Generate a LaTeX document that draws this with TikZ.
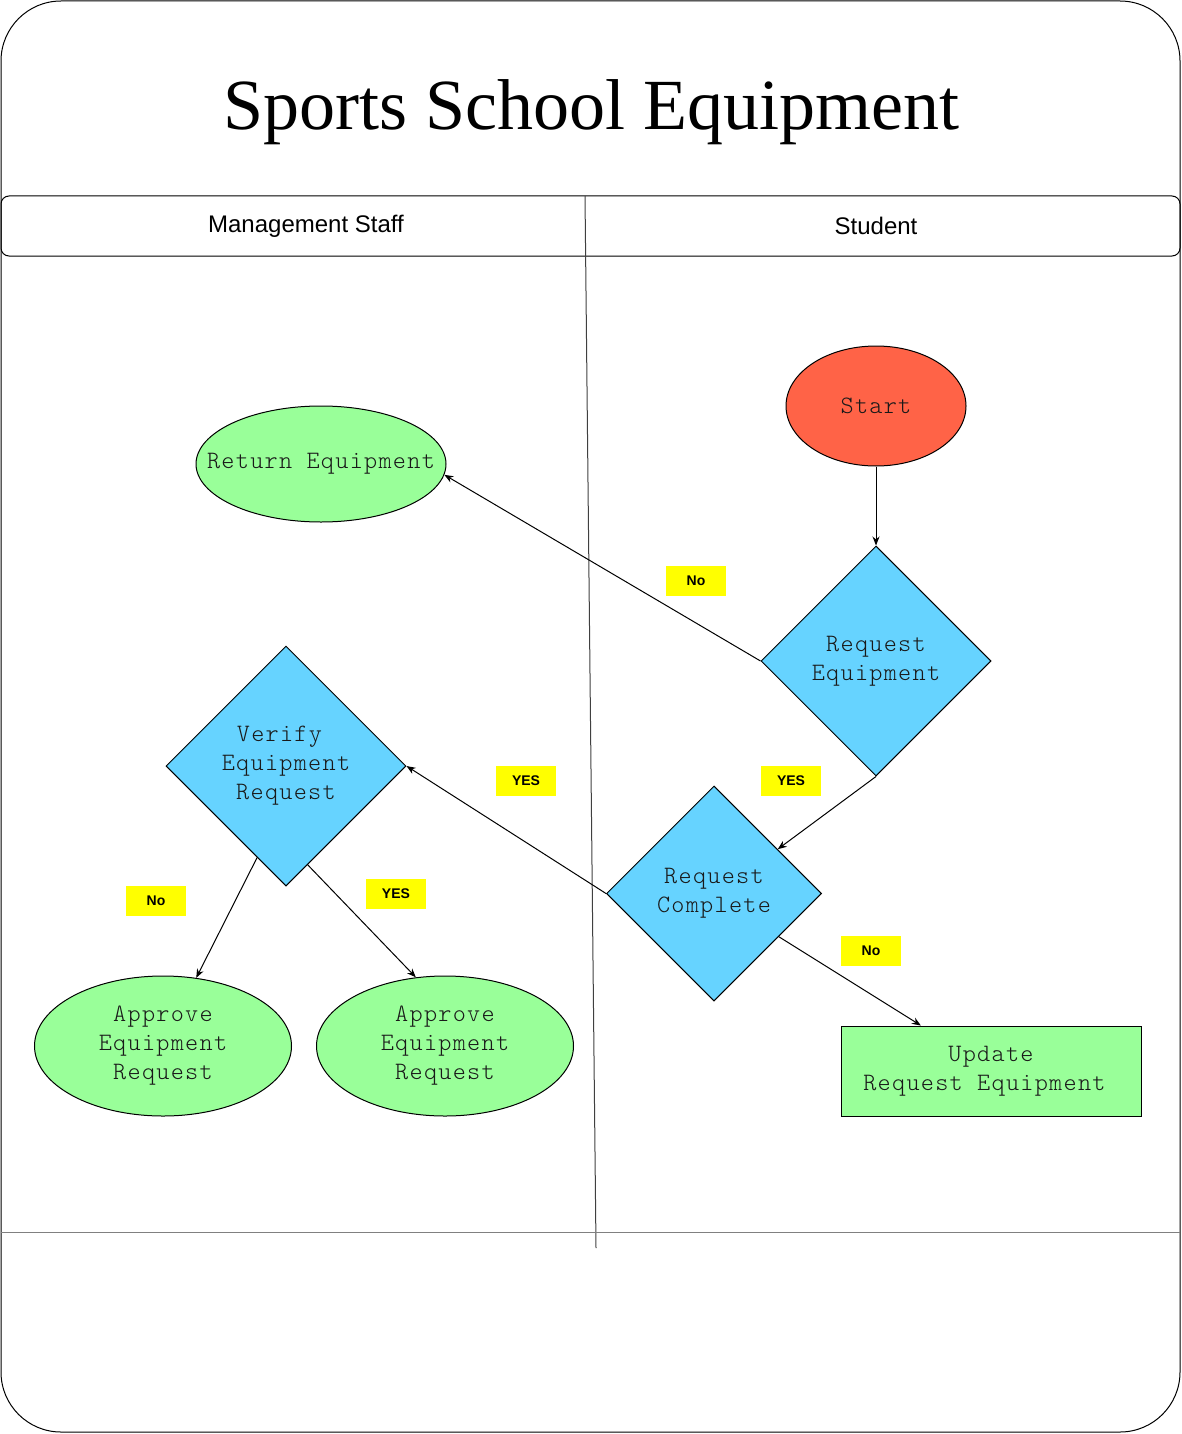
\documentclass[tikz,border=0pt]{standalone}
\usepackage{fontspec}
\setmainfont{Liberation Serif}
\newfontfamily\monof{lmmonolt10-regular.otf}[LetterSpace=5.1]
\newfontfamily\arialf{Liberation Sans}
\usetikzlibrary{shapes.geometric,arrows.meta,calc}
\definecolor{tomatoc}{HTML}{FF6347}
\definecolor{bluec}{HTML}{66D3FF}
\definecolor{greenc}{HTML}{99FF99}
\definecolor{yellowc}{HTML}{FFFF00}
\tikzset{
 mono/.style={font=\monof\fontsize{25}{29}\selectfont, align=center, text=black!90},
 ell/.style={ellipse, draw, inner sep=0pt, line width=1pt},
 dia/.style={diamond, draw, fill=bluec, inner sep=0pt, line width=1pt, aspect=1},
 tag/.style={fill=yellowc, minimum width=60pt, minimum height=30pt, inner sep=0pt, font=\arialf\bfseries\fontsize{14}{16}\selectfont},
 conn/.style={-{Stealth[length=9pt,width=7pt]}, line width=1pt},
 lane/.style={line width=1pt},
}
\begin{document}
\begin{tikzpicture}[x=1pt,y=-1pt]
\useasboundingbox (0,0) rectangle (1182,1434);
% frame
\draw[lane, rounded corners=60pt] (1,1) rectangle (1180,1432);
\node[anchor=base, font=\fontsize{72}{80}\selectfont] (title) at (591,130) {Sports School Equipment};
\draw[lane, rounded corners=8pt] (1,196) rectangle (1180,256);
\draw[lane, black!75] (585,196) -- (596,1248);
\draw[lane, gray] (1,1232) -- (1180,1232);
\node[font=\arialf\fontsize{24}{28}\selectfont] (h1) at (306,226) {Management Staff};
\node[font=\arialf\fontsize{24}{28}\selectfont] (h2) at (876,226) {Student};
% nodes
\node[ell, fill=tomatoc, minimum width=180pt, minimum height=120pt, label={[mono]center:Start}] (start) at (876,406) {};
\node[dia, minimum width=230pt, minimum height=230pt, label={[mono]center:{Request\\Equipment}}] (re) at (876,661) {};
\node[ell, fill=greenc, minimum width=250pt, minimum height=116pt, label={[mono]center:Return Equipment}] (ret) at (321,464) {};
\node[dia, minimum width=240pt, minimum height=240pt, label={[mono]center:{Verify\hphantom{x}\\Equipment\\Request}}] (vr) at (286,766) {};
\node[dia, minimum width=215pt, minimum height=215pt, label={[mono]center:{Request\\Complete}}] (rc) at (714,893.5) {};
\node[ell, fill=greenc, minimum width=257pt, minimum height=140pt, label={[mono]center:{Approve\\Equipment\\Request}}] (ap1) at (163,1046) {};
\node[ell, fill=greenc, minimum width=257pt, minimum height=140pt, label={[mono]center:{Approve\\Equipment\\Request}}] (ap2) at (445,1046) {};
\node[draw, fill=greenc, minimum width=300pt, minimum height=90pt, inner sep=0pt, line width=1pt, label={[mono]center:{Update\\Request Equipment\hphantom{x}}}] (upd) at (991,1071) {};
% tags
\node[tag] (t1) at (696,581) {No};
\node[tag] (t2) at (791,781) {YES};
\node[tag] (t3) at (526,781) {YES};
\node[tag] (t4) at (156,901) {No};
\node[tag] (t5) at (396,894) {YES};
\node[tag] (t6) at (871,951) {No};
% connectors
\draw[conn] (start.south) -- (re.north);
\draw[conn] (re.west) -- (ret.-5);
\draw[conn] (re.south) -- ($(rc.north)!0.59!(rc.east)$);
\draw[conn] (rc.west) -- (vr.east);
\draw[conn] ($(rc.east)!0.4!(rc.south)$) -- ($(upd.north west)!0.267!(upd.north east)$);
\draw[conn] ($(vr.west)!0.76!(vr.south)$) -- (ap1.64);
\draw[conn] ($(vr.south)!0.18!(vr.east)$) -- (ap2.113);
\end{tikzpicture}
\end{document}
